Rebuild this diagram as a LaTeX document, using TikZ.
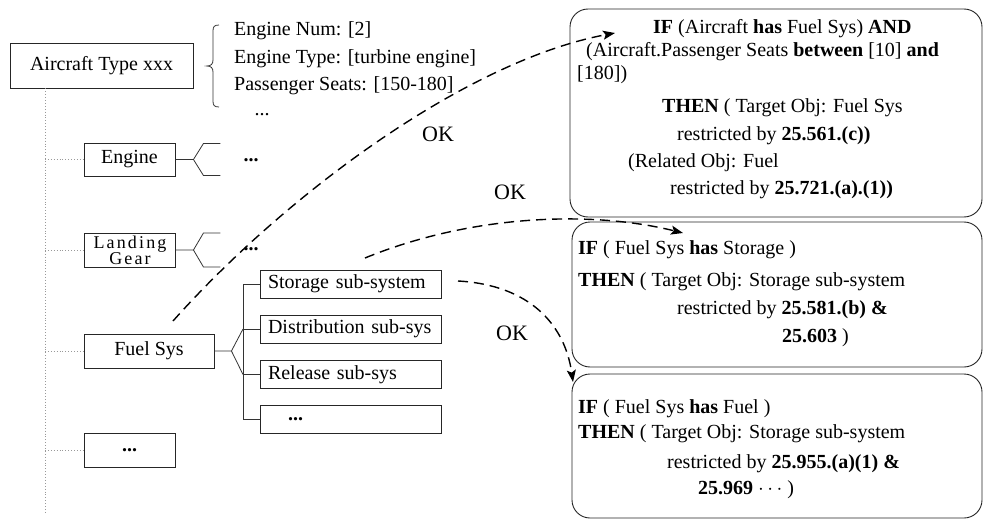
\documentclass[tikz,border=0pt]{standalone}
\usepackage{fontspec}
\setmainfont{Liberation Serif}
\usetikzlibrary{arrows.meta}
\begin{document}
\begin{tikzpicture}[x=1pt,y=-1pt,
  lbl/.style={font=\fontsize{20}{24}\selectfont,inner sep=0pt},
  txt/.style={lbl,anchor=west,text height=15pt,text depth=3pt},
  spaced/.style={lbl,anchor=base,font=\fontsize{18}{20}\selectfont\addfontfeature{LetterSpace=12}},
  box/.style={lbl,draw=black!85,line width=0.9pt,minimum width=#1,minimum height=34pt},
  subbox/.style={lbl,draw=black!85,line width=0.9pt,minimum width=181pt,minimum height=28pt,
    text width=165pt,align=left,inner xsep=8pt},
  rulebox/.style={draw=black!85,line width=0.9pt,rounded corners=18pt,inner sep=0pt,minimum width=410pt},
  dotsep/.style={lbl,anchor=base,font=\fontsize{20}{24}\selectfont\bfseries},
  ok/.style={font=\fontsize{22}{26}\selectfont,inner sep=0pt},
  tree/.style={black!80,line width=0.8pt},
  link/.style={gray!80,line width=0.9pt,dotted},
  flow/.style={line width=1.4pt,dash pattern=on 10pt off 6pt,
    -{Stealth[length=12pt,width=9pt,inset=2.5pt]}},
]
\useasboundingbox (0,0) rectangle (983,519);

% ---- part tree ----
\node[box=183pt,minimum height=45pt] (aircraft) at (101.5,65.5) {Aircraft Type xxx};
\node[box=91pt,minimum height=33pt] (engine) at (129.5,159.5) {Engine};
\node[spaced] (landA) at (130,248) {Landing};
\node[spaced] (landB) at (130,264) {Gear};
\node[box=91pt] (landing) at (129.5,250) {};
\node[box=130pt] (fuel) at (149,351) {Fuel Sys};
\node[box=91pt] (more) at (129.5,450) {\textbf{...}};

\node[subbox] (storage) at (350.5,284) {Storage sub-system};
\node[subbox] (distrib) at (350.5,329) {Distribution sub-sys};
\node[subbox] (release) at (350.5,374.5) {Release sub-sys};
\node[subbox] (subdots) at (350.5,419.5) {\hspace*{20pt}\textbf{...}};

% dotted trunk
\coordinate (trunk) at (45,513);
\draw[link] (aircraft.south -| trunk) -- (trunk);
\foreach \n in {engine,landing,fuel,more} \draw[link] (\n.west -| trunk) -- (\n.west);

% forks
\draw[tree] (engine.east) -- ++(18,0) coordinate (ej) -- ++(10,-16) -- ++(17,0);
\draw[tree] (ej) -- ++(10,16) -- ++(17,0);
\node[dotsep] (enginedots) at (251,161) {...};

\draw[tree] (landing.east) -- ++(18,0) coordinate (lj) -- ++(10,-17) -- ++(17,0);
\draw[tree] (lj) -- ++(10,17) -- ++(17,0);
\node[dotsep] (landdots) at (251,250) {...};

\coordinate (spine) at (243,0);
\draw[tree] (fuel.east) -- ++(17,0) coordinate (fj) -- (distrib.west -| spine);
\draw[tree] (fj) -- (release.west -| spine);
\draw[tree] (storage.west) -- (storage.west -| spine) -- (subdots.west -| spine) -- (subdots.west);
\draw[tree] (distrib.west -| spine) -- (distrib.west);
\draw[tree] (release.west -| spine) -- (release.west);

% attribute list with brace
\draw[tree] (219,25) .. controls (214,25) and (213,27) .. (213,31) -- (213,60)
  .. controls (213,64) and (211,66) .. (207,66)
  .. controls (211,66) and (213,68) .. (213,72) -- (213,101)
  .. controls (213,105) and (214,107) .. (219,107);
\node[txt] (inum) at (234,30) {Engine Num: [2]};
\node[txt] (itype) at (234,58) {Engine Type: [turbine engine]};
\node[txt] (iseat) at (234,85) {Passenger Seats: [150-180]};
\node[lbl,anchor=base] (imore) at (262,115) {...};

% ---- rules ----
\node[rulebox,minimum width=412pt,minimum height=208pt] (rule1) at (776,113) {};
\node[txt] (r1a) at (653,28) {\textbf{IF} (Aircraft \textbf{has} Fuel Sys) \textbf{AND}};
\node[txt] (r1b) at (586,51) {(Aircraft.Passenger Seats \textbf{between} [10] \textbf{and}};
\node[txt] (r1c) at (577,74) {[180])};
\node[txt] (r1d) at (662,107) {\textbf{THEN} ( Target Obj: Fuel Sys};
\node[txt] (r1e) at (677,134) {restricted by \textbf{25.561.(c))}};
\node[txt] (r1f) at (628,161) {(Related Obj: Fuel};
\node[txt] (r1g) at (670,188) {restricted by \textbf{25.721.(a).(1))}};

\node[rulebox,minimum height=145pt] (rule2) at (777,294.5) {};
\node[txt] (r2a) at (578,248) {\textbf{IF} ( Fuel Sys \textbf{has} Storage )};
\node[txt] (r2b) at (578,280) {\textbf{THEN} ( Target Obj: Storage sub-system};
\node[txt] (r2c) at (677,308) {restricted by \textbf{25.581.(b) \&}};
\node[txt] (r2d) at (782,336) {\textbf{25.603} )};

\node[rulebox,minimum height=144pt] (rule3) at (777,446) {};
\node[txt] (r3a) at (578,407) {\textbf{IF} ( Fuel Sys \textbf{has} Fuel )};
\node[txt] (r3b) at (578,432) {\textbf{THEN} ( Target Obj: Storage sub-system};
\node[txt] (r3c) at (667,462) {restricted by \textbf{25.955.(a)(1) \&}};
\node[txt] (r3d) at (698,488) {\textbf{25.969} $\cdots$ )};

% ---- matching links ----
\coordinate (a1s) at (173,321);
\coordinate (a1e) at (615,33);
\draw[flow] (a1s) .. controls (290,190) and (470,60) .. (a1e);
\node[ok] (ok1) at (438,134) {OK};

\coordinate (a2s) at (365,258);
\coordinate (a2e) at (683,233);
\draw[flow] (a2s) .. controls (470,215) and (590,210) .. (a2e);
\node[ok] (ok2) at (510,192) {OK};

\coordinate (a3s) at (458,281);
\coordinate (a3e) at (573,382);
\draw[flow] (a3s) .. controls (530,285) and (565,325) .. (a3e);
\node[ok] (ok3) at (512,333) {OK};
\end{tikzpicture}
\end{document}
